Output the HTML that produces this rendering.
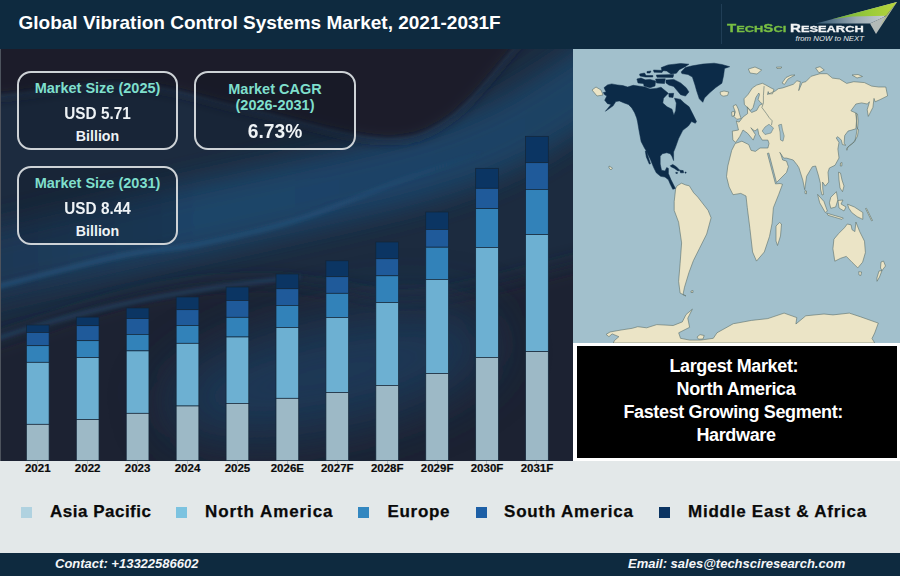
<!DOCTYPE html>
<html><head><meta charset="utf-8">
<style>
html,body{margin:0;padding:0;}
body{width:900px;height:576px;overflow:hidden;position:relative;background:#e3e8e9;font-family:"Liberation Sans",sans-serif;}
.abs{position:absolute;}
#hdr{left:0;top:0;width:900px;height:49px;background:#0e2a3f;}
#title{left:18.5px;top:10.7px;color:#fff;font:bold 19px/24px "Liberation Sans",sans-serif;white-space:nowrap;}
#chart{left:0;top:49px;width:573px;height:412px;overflow:hidden;background:#1c2130;}
.box{position:absolute;border:2px solid #cdd2d6;border-radius:14px;background:rgba(12,18,30,0.25);text-align:center;box-sizing:border-box;}
.teal{color:#7fdfcc;font-weight:bold;}
.wh{color:#eef2f5;font-weight:bold;}
.bar{position:absolute;width:22.5px;}
.seg{position:absolute;width:22.5px;box-sizing:border-box;border-top:1px solid rgba(10,25,45,0.85);box-shadow:inset 0.5px 0 0 rgba(20,35,50,0.5),inset -0.5px 0 0 rgba(20,35,50,0.5);}
.lbl{position:absolute;top:461px;-webkit-text-stroke:0.2px #0b0b0b;width:50px;text-align:center;font:bold 11.5px/14px "Liberation Sans",sans-serif;color:#0b0b0b;}
#map{left:573px;top:49px;width:327px;height:294px;background:#a2c0cc;overflow:hidden;}
#info{left:573px;top:343px;width:327px;height:118px;background:#fff;}
#infoin{left:4px;top:3px;width:320px;height:112px;background:#000;color:#fff;font:bold 18px/23px "Liberation Sans",sans-serif;text-align:center;letter-spacing:-0.35px;}
.lg{position:absolute;top:507px;width:11px;height:11px;}
.lt{position:absolute;top:502px;-webkit-text-stroke:0.25px #0a0a0a;font:bold 17px/20px "Liberation Sans",sans-serif;color:#0a0a0a;letter-spacing:0.5px;white-space:nowrap;}
#ftr{left:0;top:553px;width:900px;height:23px;background:#0e2a3f;}
.ft{position:absolute;top:3px;color:#f4f6f8;font:italic bold 13px/16px "Liberation Sans",sans-serif;white-space:nowrap;}
</style></head><body>
<div id="hdr" class="abs">
  <div id="title" class="abs">Global Vibration Control Systems Market, 2021-2031F</div>
<div class="abs" style="left:721px;top:4px;width:1px;height:40px;background:#26445c;opacity:0.8"></div>
<svg class="abs" style="left:800px;top:0" width="100" height="40" viewBox="800 0 100 40">
<defs>
<linearGradient id="gw" x1="0" y1="0" x2="1" y2="0"><stop offset="0" stop-color="#2f5570"/><stop offset="0.5" stop-color="#9aaab4"/><stop offset="1" stop-color="#d6dadb"/></linearGradient>
<linearGradient id="gg" x1="0" y1="0" x2="1" y2="0"><stop offset="0" stop-color="#6fae3c"/><stop offset="0.6" stop-color="#9ccc3a"/><stop offset="1" stop-color="#b8d23c"/></linearGradient>
</defs>
<polygon points="816,23.5 897,2 884,17 870,23.5" fill="url(#gw)"/>
<polygon points="832,19.3 897,2 886,15.8 852,16.5" fill="url(#gg)"/>
<polygon points="870,23.5 886,16 897,2 876,34" fill="#b4bab8"/>
<polygon points="886,16 897,2 880,26" fill="#a8b84a" opacity="0.7"/>
</svg>
<div class="abs" style="left:727.3px;top:21px;white-space:nowrap;font:bold 11px/14px 'Liberation Sans',sans-serif;transform:scaleX(1.37);transform-origin:0 0;-webkit-text-stroke:0.3px currentColor;color:#78bf43">T<span style="font-size:9.4px">ECH</span>S<span style="font-size:9.4px">CI</span></div>
<div class="abs" style="left:790px;top:21px;white-space:nowrap;font:bold 11px/14px 'Liberation Sans',sans-serif;transform:scaleX(1.37);transform-origin:0 0;-webkit-text-stroke:0.3px currentColor;color:#f2f4f5">R<span style="font-size:9.4px">ESEARCH</span></div>
<div class="abs" style="left:795.5px;top:33.5px;white-space:nowrap;font:italic 7.8px/9px 'Liberation Sans',sans-serif;color:#e6eaec">from NOW to NEXT</div>

</div>
<div id="chart" class="abs">
<svg class="abs" style="left:0;top:0" width="573" height="412">
<defs>
<filter id="bl1" x="-50%" y="-50%" width="200%" height="200%"><feGaussianBlur stdDeviation="14"/></filter>
<filter id="bl2" x="-50%" y="-50%" width="200%" height="200%"><feGaussianBlur stdDeviation="2"/></filter>
<filter id="bl3" x="-50%" y="-50%" width="200%" height="200%"><feGaussianBlur stdDeviation="28"/></filter>
<filter id="bl4" x="-50%" y="-50%" width="200%" height="200%"><feGaussianBlur stdDeviation="6"/></filter>
<filter id="bl5" x="-50%" y="-50%" width="200%" height="200%"><feGaussianBlur stdDeviation="10"/></filter>
<linearGradient id="sg" gradientUnits="userSpaceOnUse" x1="0" y1="0" x2="573" y2="0"><stop offset="0" stop-color="#2a5d8a" stop-opacity="0.75"/><stop offset="0.55" stop-color="#2a5d8a" stop-opacity="0.6"/><stop offset="0.85" stop-color="#2a5d8a" stop-opacity="0"/></linearGradient>
<linearGradient id="bg1" gradientUnits="userSpaceOnUse" x1="0" y1="0" x2="573" y2="0"><stop offset="0" stop-color="#1c3754"/><stop offset="0.35" stop-color="#1f4468"/><stop offset="1" stop-color="#1e4264"/></linearGradient>
</defs>
<rect width="573" height="412" fill="#1c2b3f"/>
<path d="M-30,300 C-25.0,298.3 -28.3,299.0 0,290 C28.3,281.0 97.5,255.5 140,246 C182.5,236.5 223.3,234.0 255,233 C286.7,232.0 302.5,237.2 330,240 C357.5,242.8 379.5,254.2 420,250 C460.5,245.8 539.7,223.3 573,215 C606.3,206.7 612.2,202.5 620,200 L620,460 L-30,460 Z" fill="#1b2131" filter="url(#bl5)"/>
<ellipse cx="330" cy="325" rx="170" ry="55" transform="rotate(-12 330 325)" fill="#1f3b5a" filter="url(#bl3)" opacity="0.9"/>
<path d="M-60,230 C-50.0,227.3 -40.0,223.5 0,214 C40.0,204.5 113.3,188.2 180,173 C246.7,157.8 346.7,137.2 400,123 C453.3,108.8 471.2,101.0 500,88 C528.8,75.0 549.7,59.7 573,45 C596.3,30.3 628.8,7.5 640,0" stroke="url(#bg1)" stroke-width="70" fill="none" filter="url(#bl1)"/>
<path d="M-20,243 C-16.7,242.0 -23.3,243.0 0,237 C23.3,231.0 86.7,214.0 120,207 C153.3,200.0 170.0,201.2 200,195 C230.0,188.8 266.7,180.5 300,170 C333.3,159.5 366.7,144.3 400,132 C433.3,119.7 471.2,108.8 500,96 C528.8,83.2 553.0,66.8 573,55 C593.0,43.2 612.2,30.0 620,25" stroke="url(#sg)" stroke-width="3.5" fill="none" filter="url(#bl2)"/>
<path d="M-10,292 Q120,246 300,228" stroke="#2a5a86" stroke-width="3" fill="none" filter="url(#bl2)" opacity="0.6"/>
<path d="M-30,45 C-25.0,45.5 -26.2,49.5 0,48 C26.2,46.5 85.3,33.7 127,36 C168.7,38.3 207.5,52.8 250,62 C292.5,71.2 348.7,89.7 382,91 C415.3,92.3 427.8,85.2 450,70 C472.2,54.8 500.0,16.7 515,0 C530.0,-16.7 535.8,-25.0 540,-30 L540,-60 L-30,-60 Z" fill="#1b1e2b" filter="url(#bl4)"/>
<path d="M-30,45 C-25.0,45.5 -26.2,49.5 0,48 C26.2,46.5 85.3,33.7 127,36 C168.7,38.3 207.5,52.8 250,62 C292.5,71.2 348.7,89.7 382,91 C415.3,92.3 427.8,85.2 450,70 C472.2,54.8 500.0,16.7 515,0 C530.0,-16.7 535.8,-25.0 540,-30" stroke="#28527a" stroke-width="2.5" fill="none" filter="url(#bl2)" opacity="0.45"/>
</svg>
<div class="box" style="left:17px;top:22px;width:161px;height:79px">
  <div class="teal abs" style="left:0;right:0;top:6.2px;font-size:14.5px;line-height:18px">Market Size (2025)</div>
  <div class="wh abs" style="left:0;right:0;top:29.5px;font-size:16.3px;line-height:20px;transform:scaleX(0.94)">USD 5.71</div>
  <div class="wh abs" style="left:0;right:0;top:54px;font-size:14.2px;line-height:18px">Billion</div>
</div>
<div class="box" style="left:194px;top:22px;width:162px;height:79px">
  <div class="teal abs" style="left:0;right:0;top:9px;font-size:14.5px;line-height:15.5px">Market CAGR<br>(2026-2031)</div>
  <div class="wh abs" style="left:0;right:0;top:46.5px;font-size:20px;line-height:22px;transform:scaleX(0.96)">6.73%</div>
</div>
<div class="box" style="left:17px;top:117px;width:161px;height:79px">
  <div class="teal abs" style="left:0;right:0;top:6.2px;font-size:14.5px;line-height:18px">Market Size (2031)</div>
  <div class="wh abs" style="left:0;right:0;top:29.5px;font-size:16.3px;line-height:20px;transform:scaleX(0.94)">USD 8.44</div>
  <div class="wh abs" style="left:0;right:0;top:54px;font-size:14.2px;line-height:18px">Billion</div>
</div>

<svg class="abs" style="left:0;top:0" width="573" height="412">
<rect x="26.40" y="276.00" width="22.7" height="7.50" fill="#0b3563" stroke="#132538" stroke-width="0.7"/>
<rect x="26.40" y="283.50" width="22.7" height="13.20" fill="#1f5a9a" stroke="#132538" stroke-width="0.7"/>
<rect x="26.40" y="296.70" width="22.7" height="16.60" fill="#3282b9" stroke="#132538" stroke-width="0.7"/>
<rect x="26.40" y="313.30" width="22.7" height="62.00" fill="#6db0d2" stroke="#132538" stroke-width="0.7"/>
<rect x="26.40" y="375.30" width="22.7" height="36.30" fill="#9db9c6" stroke="#132538" stroke-width="0.7"/>
<rect x="76.32" y="268.10" width="22.7" height="8.60" fill="#0b3563" stroke="#132538" stroke-width="0.7"/>
<rect x="76.32" y="276.70" width="22.7" height="15.00" fill="#1f5a9a" stroke="#132538" stroke-width="0.7"/>
<rect x="76.32" y="291.70" width="22.7" height="16.90" fill="#3282b9" stroke="#132538" stroke-width="0.7"/>
<rect x="76.32" y="308.60" width="22.7" height="61.90" fill="#6db0d2" stroke="#132538" stroke-width="0.7"/>
<rect x="76.32" y="370.50" width="22.7" height="41.10" fill="#9db9c6" stroke="#132538" stroke-width="0.7"/>
<rect x="126.24" y="259.00" width="22.7" height="10.60" fill="#0b3563" stroke="#132538" stroke-width="0.7"/>
<rect x="126.24" y="269.60" width="22.7" height="15.80" fill="#1f5a9a" stroke="#132538" stroke-width="0.7"/>
<rect x="126.24" y="285.40" width="22.7" height="16.50" fill="#3282b9" stroke="#132538" stroke-width="0.7"/>
<rect x="126.24" y="301.90" width="22.7" height="62.40" fill="#6db0d2" stroke="#132538" stroke-width="0.7"/>
<rect x="126.24" y="364.30" width="22.7" height="47.30" fill="#9db9c6" stroke="#132538" stroke-width="0.7"/>
<rect x="176.16" y="248.00" width="22.7" height="12.70" fill="#0b3563" stroke="#132538" stroke-width="0.7"/>
<rect x="176.16" y="260.70" width="22.7" height="15.80" fill="#1f5a9a" stroke="#132538" stroke-width="0.7"/>
<rect x="176.16" y="276.50" width="22.7" height="17.80" fill="#3282b9" stroke="#132538" stroke-width="0.7"/>
<rect x="176.16" y="294.30" width="22.7" height="62.70" fill="#6db0d2" stroke="#132538" stroke-width="0.7"/>
<rect x="176.16" y="357.00" width="22.7" height="54.60" fill="#9db9c6" stroke="#132538" stroke-width="0.7"/>
<rect x="226.08" y="238.00" width="22.7" height="13.50" fill="#0b3563" stroke="#132538" stroke-width="0.7"/>
<rect x="226.08" y="251.50" width="22.7" height="16.80" fill="#1f5a9a" stroke="#132538" stroke-width="0.7"/>
<rect x="226.08" y="268.30" width="22.7" height="19.70" fill="#3282b9" stroke="#132538" stroke-width="0.7"/>
<rect x="226.08" y="288.00" width="22.7" height="66.40" fill="#6db0d2" stroke="#132538" stroke-width="0.7"/>
<rect x="226.08" y="354.40" width="22.7" height="57.20" fill="#9db9c6" stroke="#132538" stroke-width="0.7"/>
<rect x="276.00" y="225.00" width="22.7" height="14.75" fill="#0b3563" stroke="#132538" stroke-width="0.7"/>
<rect x="276.00" y="239.75" width="22.7" height="16.65" fill="#1f5a9a" stroke="#132538" stroke-width="0.7"/>
<rect x="276.00" y="256.40" width="22.7" height="22.10" fill="#3282b9" stroke="#132538" stroke-width="0.7"/>
<rect x="276.00" y="278.50" width="22.7" height="70.80" fill="#6db0d2" stroke="#132538" stroke-width="0.7"/>
<rect x="276.00" y="349.30" width="22.7" height="62.30" fill="#9db9c6" stroke="#132538" stroke-width="0.7"/>
<rect x="325.92" y="211.80" width="22.7" height="15.90" fill="#0b3563" stroke="#132538" stroke-width="0.7"/>
<rect x="325.92" y="227.70" width="22.7" height="16.60" fill="#1f5a9a" stroke="#132538" stroke-width="0.7"/>
<rect x="325.92" y="244.30" width="22.7" height="24.20" fill="#3282b9" stroke="#132538" stroke-width="0.7"/>
<rect x="325.92" y="268.50" width="22.7" height="75.00" fill="#6db0d2" stroke="#132538" stroke-width="0.7"/>
<rect x="325.92" y="343.50" width="22.7" height="68.10" fill="#9db9c6" stroke="#132538" stroke-width="0.7"/>
<rect x="375.84" y="193.00" width="22.7" height="16.75" fill="#0b3563" stroke="#132538" stroke-width="0.7"/>
<rect x="375.84" y="209.75" width="22.7" height="17.05" fill="#1f5a9a" stroke="#132538" stroke-width="0.7"/>
<rect x="375.84" y="226.80" width="22.7" height="26.70" fill="#3282b9" stroke="#132538" stroke-width="0.7"/>
<rect x="375.84" y="253.50" width="22.7" height="82.90" fill="#6db0d2" stroke="#132538" stroke-width="0.7"/>
<rect x="375.84" y="336.40" width="22.7" height="75.20" fill="#9db9c6" stroke="#132538" stroke-width="0.7"/>
<rect x="425.76" y="163.00" width="22.7" height="17.40" fill="#0b3563" stroke="#132538" stroke-width="0.7"/>
<rect x="425.76" y="180.40" width="22.7" height="17.80" fill="#1f5a9a" stroke="#132538" stroke-width="0.7"/>
<rect x="425.76" y="198.20" width="22.7" height="32.20" fill="#3282b9" stroke="#132538" stroke-width="0.7"/>
<rect x="425.76" y="230.40" width="22.7" height="94.10" fill="#6db0d2" stroke="#132538" stroke-width="0.7"/>
<rect x="425.76" y="324.50" width="22.7" height="87.10" fill="#9db9c6" stroke="#132538" stroke-width="0.7"/>
<rect x="475.68" y="119.30" width="22.7" height="20.00" fill="#0b3563" stroke="#132538" stroke-width="0.7"/>
<rect x="475.68" y="139.30" width="22.7" height="20.30" fill="#1f5a9a" stroke="#132538" stroke-width="0.7"/>
<rect x="475.68" y="159.60" width="22.7" height="38.90" fill="#3282b9" stroke="#132538" stroke-width="0.7"/>
<rect x="475.68" y="198.50" width="22.7" height="109.90" fill="#6db0d2" stroke="#132538" stroke-width="0.7"/>
<rect x="475.68" y="308.40" width="22.7" height="103.20" fill="#9db9c6" stroke="#132538" stroke-width="0.7"/>
<rect x="525.60" y="87.30" width="22.7" height="26.40" fill="#0b3563" stroke="#132538" stroke-width="0.7"/>
<rect x="525.60" y="113.70" width="22.7" height="26.70" fill="#1f5a9a" stroke="#132538" stroke-width="0.7"/>
<rect x="525.60" y="140.40" width="22.7" height="45.20" fill="#3282b9" stroke="#132538" stroke-width="0.7"/>
<rect x="525.60" y="185.60" width="22.7" height="117.00" fill="#6db0d2" stroke="#132538" stroke-width="0.7"/>
<rect x="525.60" y="302.60" width="22.7" height="109.00" fill="#9db9c6" stroke="#132538" stroke-width="0.7"/>
</svg>
</div>
<div class="lbl" style="left:12.75px">2021</div>
<div class="abs" style="left:37.15px;top:461px;width:0.8px;height:2.5px;background:#b8bec3"></div>
<div class="lbl" style="left:62.67px">2022</div>
<div class="abs" style="left:87.07px;top:461px;width:0.8px;height:2.5px;background:#b8bec3"></div>
<div class="lbl" style="left:112.59px">2023</div>
<div class="abs" style="left:136.99px;top:461px;width:0.8px;height:2.5px;background:#b8bec3"></div>
<div class="lbl" style="left:162.51px">2024</div>
<div class="abs" style="left:186.91px;top:461px;width:0.8px;height:2.5px;background:#b8bec3"></div>
<div class="lbl" style="left:212.43px">2025</div>
<div class="abs" style="left:236.83px;top:461px;width:0.8px;height:2.5px;background:#b8bec3"></div>
<div class="lbl" style="left:262.35px">2026E</div>
<div class="abs" style="left:286.75px;top:461px;width:0.8px;height:2.5px;background:#b8bec3"></div>
<div class="lbl" style="left:312.27px">2027F</div>
<div class="abs" style="left:336.67px;top:461px;width:0.8px;height:2.5px;background:#b8bec3"></div>
<div class="lbl" style="left:362.19px">2028F</div>
<div class="abs" style="left:386.59px;top:461px;width:0.8px;height:2.5px;background:#b8bec3"></div>
<div class="lbl" style="left:412.11px">2029F</div>
<div class="abs" style="left:436.51px;top:461px;width:0.8px;height:2.5px;background:#b8bec3"></div>
<div class="lbl" style="left:462.03px">2030F</div>
<div class="abs" style="left:486.43px;top:461px;width:0.8px;height:2.5px;background:#b8bec3"></div>
<div class="lbl" style="left:511.95px">2031F</div>
<div class="abs" style="left:536.35px;top:461px;width:0.8px;height:2.5px;background:#b8bec3"></div>
<div class="abs" style="left:0;top:49px;width:1.3px;height:412px;background:#4d535d"></div>
<div id="map" class="abs"><svg width="327" height="294" viewBox="573 49 327 294" style="position:absolute;left:0;top:0">
<path fill="#ebe4c6" stroke="#5b6e6c" stroke-width="0.6" stroke-linejoin="round" d="M776.4,67.2 L781.8,67 L781,68.3 L777,68.5Z M735.7,142.4 L732.9,140.1 L732.3,131.1 L738.5,130 L736.3,120.9 L739.1,122.1 L743,117 L747.6,113.6 L747.3,106.8 L749.4,110 L751.6,112.5 L756.7,110.4 L759.5,105.3 L762.4,103.9 L760.3,102.4 L758.1,99.5 L759.5,94.5 L758.8,93 L755.9,97.4 L754.5,102.4 L753.1,107.5 L750.9,110.4 L748,108.2 L744.4,104.6 L744,98.8 L748,94.5 L752.3,88 L756.7,85.1 L762.4,83.3 L766,85.1 L771.1,88 L774,89.4 L772.5,93.8 L768.9,93.8 L768.2,91.6 L767.5,94.5 L775.4,90.9 L778.3,88.7 L782.7,87.9 L793.3,84.3 L796.9,80.8 L800.4,81.7 L798.7,90.6 L802.2,82.6 L805.8,81.7 L811.1,76.3 L820,73.7 L827.1,73.7 L832.4,78.1 L839.6,79 L846.7,83.4 L853.8,81.7 L864.4,82.6 L871.6,86.1 L878.7,87 L885.8,87 L887.6,95.9 L879.9,99.7 L875.1,101.8 L874,98.4 L872.9,107.4 L868.3,116.4 L867.2,109.7 L869.5,101.8 L867.2,104 L861.6,102.9 L855.9,104 L850.9,110.8 L855.9,113 L856.5,120.9 L855.9,128.8 L848,131.1 L844.7,135.6 L844.1,143.5 L845.8,145.2 L842.4,144.6 L841.3,140.1 L837.9,136.7 L836.2,137.9 L839,142.4 L837.9,149.1 L839,158 L835,165.3 L829.4,168 L828,172.2 L828.75,182 L825.3,186.1 L822.5,182 L822.8,189 L823.5,194.5 L822,195 L820.5,189 L820.4,183.3 L818.3,175 L815.6,166 L812.3,166.7 L806.6,176.3 L804.7,189.7 L802.8,180.1 L798.9,167.7 L797,164.8 L793.2,160 L786.5,158.1 L783.7,158.1 L779.8,152.4 L780.8,154.3 L782.7,160 L786.5,161 L788.4,166.7 L786.5,172.5 L776.5,182.5 L768.8,153 L767.4,153.4 L775.5,183.9 L780,183.5 L782.5,184.3 L778.6,194.7 L773.4,207.7 L772.1,223.3 L769.5,236.4 L764.3,252 L756.5,261.1 L752.6,252 L749.9,228.5 L747.3,207.7 L746,196 L740.8,193.4 L733,194.7 L729.1,186.9 L726.5,176.5 L727.8,166 L731.7,150.4 L735.2,143.5 L741.9,141.2 L748.7,144.6 L751,150.3 L755.4,151.4 L760,148 L767.9,148 L769,143.5 L767.9,140.1 L762.2,140.1 L758.8,134.5 L757.7,128.8 L755,131 L753.2,130 L750.9,127.7 L755.4,134.5 L753.2,140.1 L747.6,133.3 L743,130 L741.9,132.2 L739.7,136.7Z M736.1,104.5 L738.3,109 L739.8,114.8 L741.2,118.5 L736.8,119.3 L733.9,116.4 L735.3,112 L733.1,106Z M731.6,112 L734.3,111.2 L734.6,115.5 L732,116.4Z M720.1,92 L724,91 L728.8,92 L727.5,95.5 L723,96.2 L720.5,94.5Z M748.4,69 L755,67 L761.7,70 L757,74 L750,73Z M782,83 L786,77.5 L791,75.2 L795,75 L788,79 L784.5,84.4Z M815.6,68 L820,66.7 L824.3,70 L819,72.8Z M852,75 L858,74.5 L862.5,76.5 L857,78Z M776,226 L779.5,222.5 L781.5,224 L780.5,236 L777.5,245.5 L776,241Z M805,190.6 L806.5,191 L806.5,193.8 L805,193.5Z M855.9,113 L857.5,114 L858.2,121 L857.5,128.8 L856.5,126 L856.8,119Z M857.1,128.8 L858.5,129.5 L857.5,136 L855.9,139 L852.6,143.5 L848,147 L846.9,150.3 L846.5,148.5 L849.2,145.7 L854.8,141.5 L856.2,135Z M840.5,163 L842,162.5 L841.8,166 L840.3,166Z M838.5,172.2 L840.5,173 L842,180 L844,186 L842.5,191.7 L840,188 L839,180Z M817.6,194.4 L823.9,201.4 L827.4,211.1 L825.3,212.5 L819.7,202.8Z M836.4,191.7 L837.8,200 L835.7,207 L830.8,208.3 L829.4,202.8 L830.8,197.2Z M826.7,213.2 L843.3,218 L842,219.4 L828,215.3Z M838,200.5 L843,200 L841,204 L846,207 L844,211 L839,208Z M847.5,204.2 L854.4,207 L862.8,212.5 L862.8,219.4 L857.2,216.7 L851.7,212.5 L848.9,208.3Z M833.9,239.2 L838.7,233.5 L844.4,227.8 L847.3,224 L851.1,224.9 L852,229.7 L854.9,231.6 L855.9,222 L859.7,231.6 L864.5,241.2 L865.4,252.6 L862.6,262.2 L857.8,267.9 L852,262.2 L846.3,256.4 L840.6,258.3 L834.8,261.2 L832.9,248.8Z M858.7,271.7 L861.6,272 L860.8,275.5 L859,275Z M881,262 L883.5,261 L885.5,266 L882,270.5 L880.5,268Z M879,271 L882,270.5 L879.5,277 L877,281.3 L876.9,278Z M675.7,188.3 L677.1,185.8 L681.5,183.2 L685.8,185 L689.3,185.8 L693.6,192.7 L697.8,197.1 L708.1,210.4 L711.1,217.8 L706.7,234 L699.3,248.8 L693.4,260.6 L689,272.4 L684.5,287.2 L683,294.6 L686,296 L680.1,293.1 L678.6,281.3 L680.1,263.6 L681.6,242.9 L678.6,222.2 L674.2,210.4 L674.2,201.6Z M613.3,343 L614.4,340.6 L618.9,336.7 L612.2,333.9 L608.9,336.7 L606.1,334.4 L610,332 L621.1,330 L632.2,328.3 L637.8,326.7 L646.7,327.8 L656.8,324.6 L673.2,325.5 L682.3,321.9 L686,314.6 L692.4,309.1 L687.8,318.2 L689.6,327.3 L678.7,332.8 L680.5,338.3 L689.6,340.1 L700.6,340.1 L713.3,338.3 L717,332.8 L733.3,323.7 L737,323.1 L751.5,320.4 L767.8,318.6 L784.1,313.1 L796.8,317.6 L795.9,324 L805.8,315.8 L824,314 L833,314.9 L849.3,313.1 L860.2,316.7 L878.3,323.1 L874.7,333 L872,338.5 L874.7,343Z M592,90 L596,87 L601,90 L603,95 L597,96Z M609,166 L612.5,168 L611,170 L609,168Z M691,291 L693,290.5 L693,292.5 L691,292.5Z M865.5,208.5 L866.5,208.3 L872.5,220.5 L871.5,220.8Z M697,337 L700,334.6 L704.2,335.5 L703,339 L698.5,339.2Z"/>
<path fill="#a2c0cc" stroke="#5b6e6c" stroke-width="0.5" d="M778.6,125 L781.5,124.3 L782.5,130 L784.2,136 L783,141.2 L780.5,140 L780,132Z M762.2,131 L765,127 L769,124.3 L773.5,128 L771,133 L765,134.5Z"/>
<path fill="#0c2b48" stroke="#0c2b48" stroke-width="0.5" stroke-linejoin="round" d="M604,87.7 L607.5,84.9 L611.7,83.9 L617.2,84.9 L622.8,85.6 L627.6,87 L633.2,85.3 L638.1,86 L645,87 L650,89 L656.1,88.4 L661,87.2 L664.7,90.3 L668.3,93.3 L663.5,98.2 L662.8,103.1 L667.1,106.8 L672,109.2 L673.9,115.3 L675.7,110.5 L676.3,103.1 L674.5,98.2 L680.6,99.4 L684.2,103.1 L689.1,106.8 L692.8,114.1 L696.5,121.5 L695.3,123.3 L691.6,121.5 L688.3,126.1 L682.8,130.3 L678.6,138.6 L675.4,147.6 L673.6,151.9 L673.6,160.6 L671.9,156.3 L670.2,153.7 L666.7,152.8 L662.4,153.7 L660.2,156.3 L660.2,164.1 L661.5,170.2 L665,171 L666.7,167.6 L668.4,168.4 L668.4,173.6 L671,179.7 L675.4,188.4 L672.8,189.3 L670.2,184.1 L668.4,179.7 L665,177.1 L660.6,176.3 L656.3,172.8 L653.7,167.6 L650.2,158.9 L645.9,150.2 L644.6,148.3 L641.1,141.4 L639,130.3 L637.6,121.9 L636.7,118 L634.6,112.7 L631.8,107.9 L628.3,104.4 L624.2,103 L619.3,100.9 L615.8,101.6 L613.1,105.8 L605.4,111.3 L611,104.4 L607.5,103.7 L604.7,100.2 L606.8,96.1 L604.7,94.7 L603.3,92.6 L606.1,91.9Z M681.1,71.9 L685.4,67.5 L692.4,65.8 L702.8,64.1 L714.1,63.2 L721.9,64.5 L729.7,66.7 L724.5,68.4 L723.6,75.4 L721.9,83.2 L715.8,87.5 L709.7,92.7 L704.5,97.9 L702.8,102.3 L699.3,98.8 L696.7,91 L695,84.9 L692.4,77.1 L688,74.5 L681.9,73.6Z M661.2,67.6 L668.1,64.9 L680.6,63.5 L688.9,64.2 L684.8,66.9 L679.2,69.7 L676.4,73.2 L670.9,73.9 L666.7,71.1 L661.9,70.4Z M666,80.1 L673.7,79.4 L680.6,82.9 L686.2,87.8 L688.9,91.9 L685.5,96.1 L680.6,94.7 L677.1,90.6 L673.7,86.4 L668.8,85 L666,82.9Z M643,80 L650,79.4 L655.6,81 L655,86 L650,87.8 L644,86Z M636.9,79 L641,78 L644.5,79.5 L643.5,83.6 L638,83Z M639.6,74 L644.5,73 L646,75.5 L652.8,75.5 L652.8,77 L645.5,77 L640,76Z M653.5,70 L663.3,70.5 L662,72.5 L654,72.2Z M656.3,75 L673.7,74.6 L673,77.4 L657,77.2Z M655.6,79 L665.3,78.8 L664.5,83.6 L656.5,83Z M668.8,93.5 L673.7,93.3 L673,97.5 L669,97Z M647,71.5 L651,71 L650,73 L647,73Z M670.2,165.8 L672.8,164.5 L676.3,166.7 L679.7,170.2 L678,171 L674.5,168.4 L671,166.7Z M679.7,170.2 L683.2,170.6 L683.6,172.8 L680.6,172.8Z M645.3,151 L646.5,151.5 L650.5,163.8 L649.3,164.1 L646.3,157Z M675.8,172.3 L677.6,172.5 L677.3,173.6 L675.9,173.4Z M685,172 L686.2,172.2 L686,173.2 L685,173Z"/>
<path fill="none" stroke="#5b6e6c" stroke-width="0.6" d="M764.1,86.1 L763.4,95.7 L763.4,103.1 L761.9,107.5 L766.3,113.4 L769.3,117.8 L772.2,120.8 L771.5,125.2"/>
</svg></div>
<div id="info" class="abs"><div id="infoin" class="abs"><div style="padding-top:8.5px"><span style="position:relative;left:-3.2px">Largest Market:</span><br><span style="position:relative;left:-1px">North America</span><br><span style="position:relative;left:-3.8px">Fastest Growing Segment:</span><br><span style="position:relative;left:-1px">Hardware</span></div></div></div>
<div class="lg" style="left:21px;background:#b0d2e0"></div><div class="lt" style="left:50px">Asia Pacific</div>
<div class="lg" style="left:176px;background:#7cc3e0"></div><div class="lt" style="left:205px;letter-spacing:0.92px">North America</div>
<div class="lg" style="left:358px;background:#3387c0"></div><div class="lt" style="left:387.5px;letter-spacing:0.7px">Europe</div>
<div class="lg" style="left:476px;background:#1d5fa6"></div><div class="lt" style="left:504px;letter-spacing:0.8px">South America</div>
<div class="lg" style="left:659px;background:#0b3462"></div><div class="lt" style="left:688px;letter-spacing:0.76px">Middle East &amp; Africa</div>
<div id="ftr" class="abs">
  <div class="ft" style="left:55px">Contact: +13322586602</div>
  <div class="ft" style="left:628px">Email: sales@techsciresearch.com</div>
</div>
</body></html>
